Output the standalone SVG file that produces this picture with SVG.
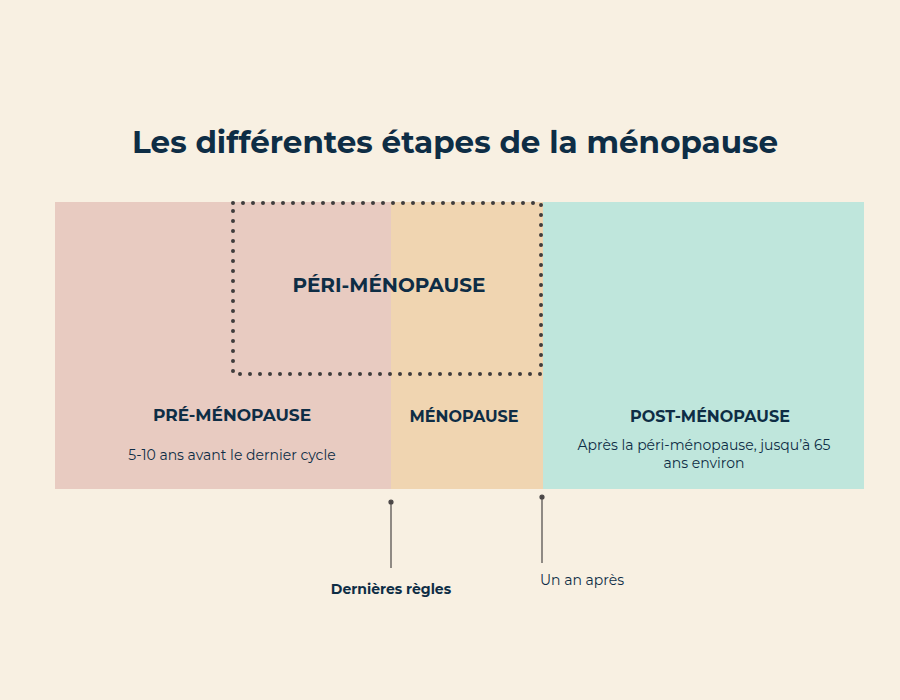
<svg xmlns="http://www.w3.org/2000/svg" width="900" height="700" viewBox="0 0 900 700">
<style>
.t{font-family:"Montserrat","Inter","Noto Sans",sans-serif;fill:#0e2d45}
.h{font-weight:700}
.s{font-size:14px}
</style>
<rect width="900" height="700" fill="#f8f0e2"/>
<text class="t h" x="455" y="153" font-size="31" text-anchor="middle">Les différentes étapes de la ménopause</text>
<g id="pre"><rect x="55" y="202" width="336" height="287" fill="#e8cbc1"/>
<text class="t h" x="232" y="421" font-size="17" text-anchor="middle">PRÉ-MÉNOPAUSE</text>
<text class="t s" x="232" y="460" text-anchor="middle">5-10 ans avant le dernier cycle</text></g>
<g id="meno"><rect x="391" y="202" width="152" height="287" fill="#f0d5b1"/>
<text class="t h" x="464" y="422" font-size="16" text-anchor="middle">MÉNOPAUSE</text></g>
<g id="post"><rect x="543" y="202" width="321" height="287" fill="#bfe6dc"/>
<text class="t h" x="710" y="422" font-size="16" text-anchor="middle">POST-MÉNOPAUSE</text>
<text class="t s" x="704" y="450" text-anchor="middle">Après la péri-ménopause, jusqu’à 65</text>
<text class="t s" x="704" y="468" text-anchor="middle">ans environ</text></g>
<g id="peri"><rect x="233" y="203" width="308" height="171" fill="none" stroke="#3f3c3c" stroke-width="4" stroke-linecap="round" stroke-dasharray="0 10"/>
<text class="t h" x="389" y="292" font-size="20" text-anchor="middle">PÉRI-MÉNOPAUSE</text></g>
<g id="connectors" stroke="#4a4646" stroke-width="1.2" fill="#4a4646">
<line x1="391" y1="502" x2="391" y2="568"/><circle cx="391" cy="502" r="2"/>
<line x1="542" y1="497" x2="542" y2="563"/><circle cx="542" cy="497" r="2"/>
</g>
<text class="t h s" x="391" y="594" text-anchor="middle">Dernières règles</text>
<text class="t s" x="540" y="585">Un an après</text>
</svg>
